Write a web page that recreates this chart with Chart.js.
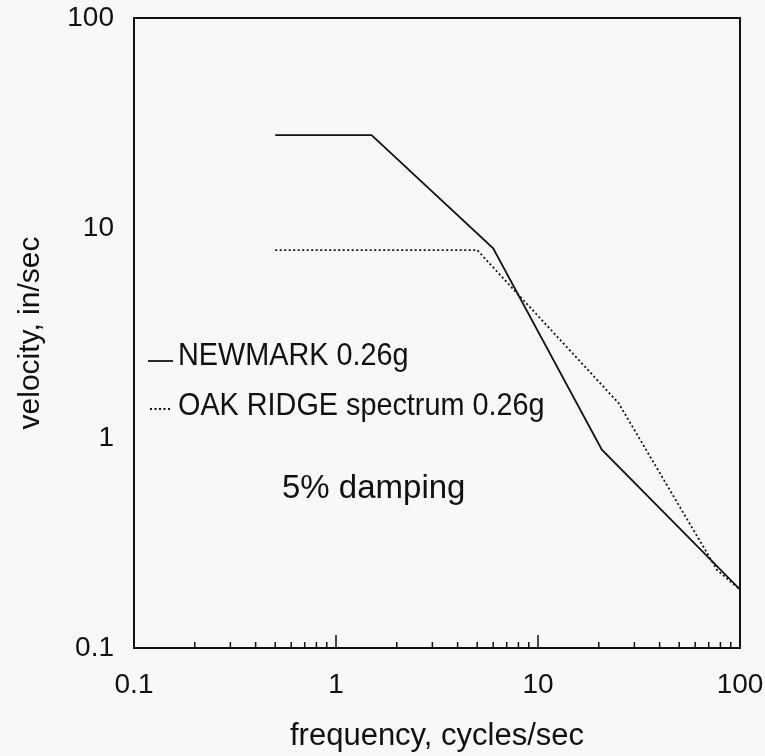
<!DOCTYPE html>
<html>
<head>
<meta charset="utf-8">
<script src="https://cdn.jsdelivr.net/npm/chart.js@4.4.1/dist/chart.umd.min.js"></script>
<style>
    body { margin: 0; background: #f8f8f8; }
    #wrap { width: 765px; height: 756px; }
</style>
</head>
<body>
<div id="wrap"><canvas id="spectrumChart"></canvas></div>
<script>
// frequency (cycles/sec) and velocity (in/sec)
const newmarkFreq = [0.5, 1.5, 6, 20.7, 100];
const newmarkVel = [27.7, 27.7, 8.0, 0.88, 0.19];
const oakRidgeFreq = [0.5, 5, 25, 77, 100];
const oakRidgeVel = [7.85, 7.85, 1.47, 0.235, 0.19];

const xTickLabels = [0.1, 1, 10, 100];
const yTickLabels = [0.1, 1, 10, 100];
const xMinorTicks = [0.2, 0.3, 0.4, 0.5, 0.6, 0.7, 0.8, 0.9, 1,
    2, 3, 4, 5, 6, 7, 8, 9, 10, 20, 30, 40, 50, 60, 70, 80, 90];

const FONT = "'Liberation Sans', Arial, Helvetica, sans-serif";
const INK = '#111';

function toPoints(xs, ys) {
    return xs.map(function(v, i) { return {x: v, y: ys[i]}; });
}

// box around the plot, inward ticks on the x axis, and the notes
const framePlugin = {
    id: 'frame',
    afterDraw(chart) {
        const ctx = chart.ctx;
        const a = chart.chartArea;
        const x = chart.scales.x;
        ctx.save();
        ctx.strokeStyle = INK;
        ctx.lineWidth = 2;
        ctx.strokeRect(a.left, a.top, a.right - a.left, a.bottom - a.top);

        ctx.lineWidth = 1.5;
        xMinorTicks.forEach(function(v) {
            const px = x.getPixelForValue(v);
            const len = (v === 1 || v === 10) ? 13 : 6;
            ctx.beginPath();
            ctx.moveTo(px, a.bottom);
            ctx.lineTo(px, a.bottom - len);
            ctx.stroke();
        });

        // legend lines
        const lx = a.left + 14;
        ctx.lineWidth = 1.8;
        ctx.beginPath();
        ctx.moveTo(lx, a.top + 343);
        ctx.lineTo(lx + 25, a.top + 343);
        ctx.stroke();
        ctx.setLineDash([2, 2.5]);
        ctx.beginPath();
        ctx.moveTo(lx + 2, a.top + 391);
        ctx.lineTo(lx + 22, a.top + 391);
        ctx.stroke();
        ctx.setLineDash([]);

        // condensed legend text
        ctx.fillStyle = INK;
        ctx.textBaseline = 'alphabetic';
        ctx.font = '32px ' + FONT;
        ctx.save();
        ctx.translate(lx + 30, 0);
        ctx.scale(0.9, 1);
        ctx.fillText('NEWMARK 0.26g', 0, a.top + 347);
        ctx.fillText('OAK RIDGE spectrum 0.26g', 0, a.top + 397);
        ctx.restore();

        ctx.font = '33px ' + FONT;
        ctx.fillText('5% damping', a.left + 148, a.top + 480);
        ctx.restore();
    }
};

const ctx = document.getElementById('spectrumChart').getContext('2d');
const chart = new Chart(ctx, {
    type: 'line',
    data: {
        datasets: [{
            label: 'NEWMARK 0.26g',
            data: toPoints(newmarkFreq, newmarkVel),
            borderColor: INK,
            borderWidth: 1.8,
            pointRadius: 0,
            tension: 0,
            fill: false
        }, {
            label: 'OAK RIDGE spectrum 0.26g',
            data: toPoints(oakRidgeFreq, oakRidgeVel),
            borderColor: INK,
            borderWidth: 1.8,
            borderDash: [2, 2.5],
            pointRadius: 0,
            tension: 0,
            fill: false
        }]
    },
    options: {
        responsive: true,
        maintainAspectRatio: false,
        animation: false,
        layout: { padding: { top: 18, right: 25, left: 0, bottom: 0 } },
        plugins: {
            legend: { display: false },
            tooltip: { enabled: false }
        },
        scales: {
            x: {
                type: 'logarithmic',
                position: 'bottom',
                min: 0.1,
                max: 100,
                grid: { display: false },
                border: { display: false },
                afterBuildTicks: function(scale) {
                    scale.ticks = xTickLabels.map(function(v) { return {value: v}; });
                },
                afterFit: function(scale) {
                    scale.height = 108;
                    scale.paddingLeft = 0;
                    scale.paddingRight = 0;
                },
                ticks: {
                    color: INK,
                    font: { family: FONT, size: 28 },
                    padding: 12,
                    maxRotation: 0,
                    autoSkip: false,
                    callback: function(v) { return String(v); }
                },
                title: {
                    display: true,
                    text: 'frequency, cycles/sec',
                    color: INK,
                    font: { family: FONT, size: 31 },
                    padding: { top: 0, bottom: 1 }
                }
            },
            y: {
                type: 'logarithmic',
                min: 0.1,
                max: 100,
                grid: { display: false },
                border: { display: false },
                afterBuildTicks: function(scale) {
                    scale.ticks = yTickLabels.map(function(v) { return {value: v}; });
                },
                afterFit: function(scale) {
                    scale.width = 134;
                    scale.paddingTop = 0;
                    scale.paddingBottom = 0;
                },
                ticks: {
                    color: INK,
                    font: { family: FONT, size: 28 },
                    padding: 12,
                    autoSkip: false,
                    callback: function(v) { return String(v); }
                },
                title: {
                    display: true,
                    text: 'velocity, in/sec',
                    color: INK,
                    font: { family: FONT, size: 30 },
                    padding: { top: 13, bottom: 0 }
                }
            }
        }
    },
    plugins: [framePlugin]
});
</script>
</body>
</html>
